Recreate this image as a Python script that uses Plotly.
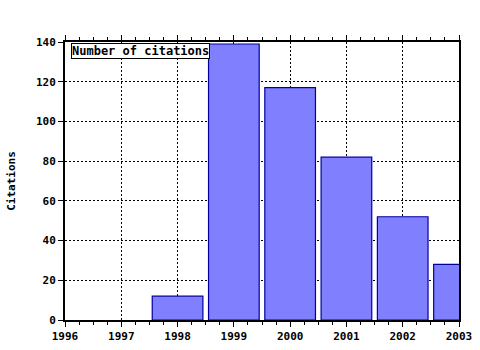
import plotly.graph_objects as go

years = [1998, 1999, 2000, 2001, 2002, 2003]
citations = [12, 139, 117, 82, 52, 28]
series_name = "Number of citations"
y_title = "Citations"

font = dict(family="DejaVu Sans Mono", size=11, color="black", weight="bold")
legend_font = dict(family="DejaVu Sans Mono", size=12, color="black", weight="bold")

fig = go.Figure()
fig.add_trace(go.Bar(
    x=years, y=citations, width=0.9, name=series_name,
    marker=dict(color="#8080ff", line=dict(color="#0000a0", width=1.2)),
))

fig.update_layout(
    width=480, height=350,
    margin=dict(l=65, r=21, t=42, b=30),
    paper_bgcolor="white", plot_bgcolor="white",
    showlegend=False,
    font=font,
    annotations=[dict(
        text=series_name, xref="paper", yref="paper", x=0.015, y=0.997,
        xanchor="left", yanchor="top", showarrow=False,
        bordercolor="black", borderwidth=1, bgcolor="white", borderpad=0,
        font=legend_font,
    )],
)
fig.update_xaxes(
    range=[1996, 2003], tick0=1996, dtick=1, automargin=False,
    showline=True, linecolor="black", linewidth=2, mirror="ticks",
    ticks="outside", ticklen=5, tickcolor="black",
    showgrid=True, gridcolor="black", griddash="2px,2px", gridwidth=1,
    minor=dict(dtick=0.25, tick0=1996, ticks="outside", ticklen=3, tickcolor="black", showgrid=False),
    zeroline=False, tickfont=font,
)
fig.update_yaxes(
    range=[0, 140], dtick=20, automargin=False,
    showline=True, linecolor="black", linewidth=2, mirror=True,
    ticks="outside", ticklen=5, tickcolor="black",
    showgrid=True, gridcolor="black", griddash="2px,2px", gridwidth=1,
    zeroline=False, tickfont=font,
    title=dict(text=y_title, font=font, standoff=18),
)

fig.write_html("out.html")
